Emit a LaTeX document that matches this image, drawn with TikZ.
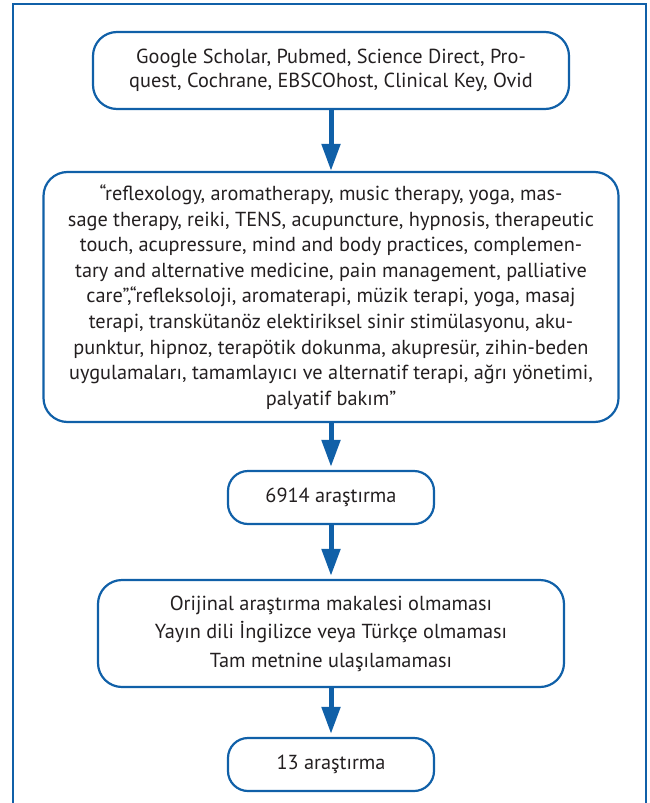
\documentclass[tikz,border=0pt]{standalone}
\usepackage{fontspec}
\setmainfont{PT Sans}
\usepackage{xcolor}
\usepackage{tikz}
\usetikzlibrary{arrows.meta, positioning}
\definecolor{flowblue}{RGB}{16, 96, 168}
\definecolor{textgray}{RGB}{35, 31, 32}
\tikzset{
    roundnode/.style = {draw=flowblue, rectangle, line width=2.2pt, rounded corners=24pt, inner sep=0em, 
      node distance=0em, align=center, text=textgray, font=\fontsize{20.3}{25.6}\selectfont},
    smallroundnode/.style = {roundnode, rounded corners=20pt, minimum width=206pt, minimum height=53pt},
    frameline/.style = {draw=flowblue, line width=1.5pt},
    connect/.style = {flowblue, line width=5pt, -{Triangle[width=18pt, length=27pt]}, shorten >=3pt}
}

\begin{document}
\begin{tikzpicture}
    \useasboundingbox (0,0) rectangle (649pt,-803pt);
    \draw [frameline] (13pt,-803pt) -- (13pt,-4pt) -- (646pt,-4pt) -- (646pt,-803pt);

    \node [name=databases, roundnode, minimum width=476pt, minimum height=77pt, 
        font=\fontsize{20.3}{24}\selectfont] at (331pt,-70.5pt) 
        {Google Scholar, Pubmed, Science Direct, Pro-\\quest, Cochrane, EBSCOhost, Clinical Key, Ovid};
    \node [name=keywords, roundnode, minimum width=575pt, minimum height=250pt, 
        below of = databases, yshift=-226.5pt] 
        {“reflexology, aromatherapy, music therapy, yoga, mas-\\
        sage therapy, reiki, TENS, acupuncture, hypnosis, therapeutic\\
        touch, acupressure, mind and body practices, complemen-\\
        tary and alternative medicine, pain management, palliative\\
        care”,“refleksoloji, aromaterapi, müzik terapi, yoga, masaj\\
        terapi, transkütanöz elektiriksel sinir stimülasyonu, aku-\\
        punktur, hipnoz, terapötik dokunma, akupresür, zihin-beden\\
        uygulamaları, tamamlayıcı ve alternatif terapi, ağrı yönetimi,\\
        palyatif bakım”};
    \node [name=found, smallroundnode, below of = keywords, yshift=-200.5pt] {6914 araştırma};
    \node [name=exclusion, roundnode, minimum width=466pt, minimum height=107pt, 
        font=\fontsize{20.3}{28.5}\selectfont, below of = found, yshift=-136pt] 
        {Orijinal araştırma makalesi olmaması\\Yayın dili İngilizce veya Türkçe olmaması\\Tam metnine ulaşılamaması};
    \node [name=included, smallroundnode, below of = exclusion, yshift=-131pt] {13 araştırma};

    \draw [connect, shorten >=0pt] (databases) -- (keywords);
    \draw [connect] (keywords) -- (found);
    \draw [connect] (found) -- (exclusion);
    \draw [connect] (exclusion) -- (included);
\end{tikzpicture}
\end{document}
